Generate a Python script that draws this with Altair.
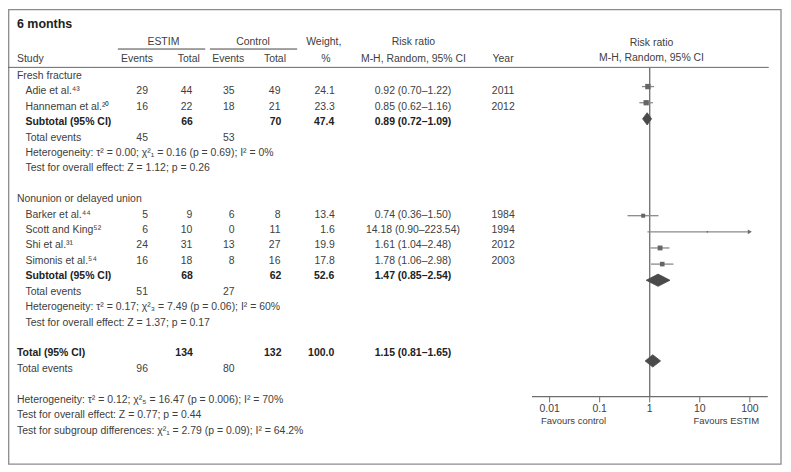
import altair as alt
import pandas as pd

# ---------------- data ----------------
study_names = ["Adie et al.⁴³", "Hanneman et al.²⁰", "Barker et al.⁴⁴",
               "Scott and King⁵²", "Shi et al.³¹", "Simonis et al.⁵⁴"]
study_rows = [1, 2, 9, 10, 11, 12]
estim_events = [29, 16, 5, 6, 24, 16]
estim_total = [44, 22, 9, 10, 31, 18]
ctrl_events = [35, 18, 6, 0, 13, 8]
ctrl_total = [49, 21, 8, 11, 27, 16]
weights = [24.1, 23.3, 13.4, 1.6, 19.9, 17.8]
rr = [0.92, 0.85, 0.74, 14.18, 1.61, 1.78]
rr_lo = [0.70, 0.62, 0.36, 0.90, 1.04, 1.06]
rr_hi = [1.22, 1.16, 1.50, 223.54, 2.48, 2.98]
years = [2011, 2012, 1984, 1994, 2012, 2003]

sum_names = ["Subtotal (95% CI)", "Subtotal (95% CI)", "Total (95% CI)"]
sum_rows = [3, 13, 18]
sum_estim_total = [66, 68, 134]
sum_ctrl_total = [70, 62, 132]
sum_weight = [47.4, 52.6, 100.0]
sum_rr = [0.89, 1.47, 1.15]
sum_lo = [0.72, 0.85, 0.81]
sum_hi = [1.09, 2.54, 1.65]

te_rows = [4, 14, 19]
te_estim = [45, 51, 96]
te_ctrl = [53, 27, 80]

group_labels = ["Fresh fracture", "Nonunion or delayed union"]
group_rows = [0, 8]

sub_notes = ["Heterogeneity: τ² = 0.00; χ²₁ = 0.16 (p = 0.69); I² = 0%",
             "Test for overall effect: Z = 1.12; p = 0.26",
             "Heterogeneity: τ² = 0.17; χ²₃ = 7.49 (p = 0.06); I² = 60%",
             "Test for overall effect: Z = 1.37; p = 0.17"]
sub_note_rows = [5, 6, 15, 16]
overall_notes = ["Heterogeneity: τ² = 0.12; χ²₅ = 16.47 (p = 0.006); I² = 70%",
                 "Test for overall effect: Z = 0.77; p = 0.44",
                 "Test for subgroup differences: χ²₁ = 2.79 (p = 0.09); I² = 64.2%"]
overall_note_rows = [21, 22, 23]

tick_values = [0.01, 0.1, 1, 10, 100]
tick_labels = ["0.01", "0.1", "1", "10", "100"]
axis_extent = [0.00444, 228]
display_max = 100

# ---------------- style / layout ----------------
FONT = "Liberation Sans"
TXT = "#404040"
TXTB = "#222222"
FS = 10.5
W, H = 778, 460


def P(v):
    return v - 8  # page pixel -> chart pixel


ROWY = alt.Scale(domain=[0, 23], range=[P(75.2), P(431.3)], nice=False, zero=False)
FY = alt.Scale(domain=[0, 23], range=[P(69.8), P(69.8 + 16.2 * 23)], nice=False, zero=False)
XS = alt.Scale(type="log", domain=[0.01, 100], range=[P(551.7), P(752.7)], nice=False)

one = pd.DataFrame({"k": [0]})


def fmt_rr(a, lo, hi):
    return f"{a:.2f} ({lo:.2f}–{hi:.2f})"


studies = pd.DataFrame({
    "row": study_rows, "name": study_names,
    "ee": [str(v) for v in estim_events], "et": [str(v) for v in estim_total],
    "ce": [str(v) for v in ctrl_events], "ct": [str(v) for v in ctrl_total],
    "w": [f"{v:.1f}" for v in weights],
    "rr": [fmt_rr(a, b, c) for a, b, c in zip(rr, rr_lo, rr_hi)],
    "year": [str(v) for v in years],
    "est": rr, "lo": rr_lo, "hi": [min(h, display_max) for h in rr_hi],
    "weight": weights,
})
arrows = pd.DataFrame({"row": [r for r, h in zip(study_rows, rr_hi) if h > display_max],
                       "x": [display_max for h in rr_hi if h > display_max]})
summ = pd.DataFrame({
    "row": sum_rows, "name": sum_names,
    "et": [str(v) for v in sum_estim_total], "ct": [str(v) for v in sum_ctrl_total],
    "w": [f"{v:.1f}" for v in sum_weight],
    "rr": [fmt_rr(a, b, c) for a, b, c in zip(sum_rr, sum_lo, sum_hi)],
})
te = pd.DataFrame({"row": te_rows, "name": ["Total events"] * 3,
                   "ee": [str(v) for v in te_estim], "ce": [str(v) for v in te_ctrl]})
groups = pd.DataFrame({"row": group_rows, "name": group_labels})
snotes = pd.DataFrame({"row": sub_note_rows, "name": sub_notes})
onotes = pd.DataFrame({"row": overall_note_rows, "name": overall_notes})

# diamond outlines (closed polygons) built from the summary estimates
HH = 0.38
dia = []
for g, (r, e, lo, hi) in enumerate(zip(sum_rows, sum_rr, sum_lo, sum_hi)):
    pts = [(lo, r), (e, r - HH), (hi, r), (e, r + HH), (lo, r)]
    for k, (xv, yv) in enumerate(pts):
        dia.append({"grp": g, "k": k, "dx": xv, "dy": yv})
dia = pd.DataFrame(dia)
ticks = pd.DataFrame({"t": tick_values, "lab": tick_labels})
axis_df = pd.DataFrame({"a": [axis_extent[0]], "b": [axis_extent[1]]})
ref_df = pd.DataFrame({"v": [1]})


def col(df, field, xpos, align, bold=False, size=FS):
    return alt.Chart(df).mark_text(
        align=align, baseline="middle", font=FONT, fontSize=size,
        fontWeight="bold" if bold else "normal", color=TXTB if bold else TXT
    ).encode(x=alt.value(P(xpos)), y=alt.Y("row:Q", scale=ROWY, axis=None), text=f"{field}:N")


def label(txt, x, y, align="left", bold=False, size=FS, color=TXT):
    return alt.Chart(one).mark_text(
        text=txt, align=align, baseline="middle", font=FONT, fontSize=size,
        fontWeight="bold" if bold else "normal", color=color
    ).encode(x=alt.value(P(x)), y=alt.value(P(y)))


def hline(x1, x2, y, color="#555", width=1.0):
    return alt.Chart(one).mark_rule(color=color, strokeWidth=width).encode(
        x=alt.value(P(x1)), x2=alt.value(P(x2)), y=alt.value(P(y)))


layers = []
# border
layers.append(alt.Chart(one).mark_rect(fillOpacity=0, stroke="#8c8c8c", strokeWidth=1.3).encode(
    x=alt.value(0.7), x2=alt.value(P(784)), y=alt.value(0.7), y2=alt.value(P(465))))
# headers
layers += [
    label("6 months", 17, 23, bold=True, size=12.5, color="#1e1e1e"),
    label("ESTIM", 164, 41, align="center"),
    label("Control", 254, 41, align="center"),
    hline(118.3, 206, 48.3, "#444"),
    hline(210.7, 298.3, 48.3, "#444"),
    label("Weight,", 325, 41, align="center"),
    label("%", 327, 58, align="center"),
    label("Study", 17, 58),
    label("Events", 137.5, 58, align="center"),
    label("Total", 189.5, 58, align="center"),
    label("Events", 229, 58, align="center"),
    label("Total", 276, 58, align="center"),
    label("Risk ratio", 415, 41, align="center"),
    label("M-H, Random, 95% CI", 415, 58, align="center"),
    label("Year", 505, 58, align="center"),
    label("Risk ratio", 654, 42, align="center"),
    label("M-H, Random, 95% CI", 654, 57.5, align="center"),
    hline(6, 771.7, 66.7, "#666"),
]
# table body
layers += [
    col(groups, "name", 17, "left"),
    col(studies, "name", 25.5, "left"),
    col(studies, "ee", 148.5, "right"),
    col(studies, "et", 193, "right"),
    col(studies, "ce", 235.5, "right"),
    col(studies, "ct", 281.5, "right"),
    col(studies, "w", 336, "right"),
    col(studies, "rr", 414.5, "center"),
    col(studies, "year", 505, "center"),
    col(summ[summ.row < 18], "name", 25.5, "left", bold=True),
    col(summ[summ.row >= 18], "name", 17, "left", bold=True),
    col(summ, "et", 193.5, "right", bold=True),
    col(summ, "ct", 282.5, "right", bold=True),
    col(summ, "w", 335.5, "right", bold=True),
    col(summ, "rr", 414.5, "center", bold=True),
    col(te[te.row < 18], "name", 25.5, "left"),
    col(te[te.row >= 18], "name", 17, "left"),
    col(te, "ee", 148.5, "right"),
    col(te, "ce", 235.5, "right"),
    col(snotes, "name", 25.5, "left"),
    col(onotes, "name", 17, "left"),
]
# forest plot
layers += [
    alt.Chart(ref_df).mark_rule(color="#6e6e6e", strokeWidth=1.3).encode(
        x=alt.X("v:Q", scale=XS, axis=None), y=alt.value(P(66.7)), y2=alt.value(P(397.3))),
    alt.Chart(axis_df).mark_rule(color="#6e6e6e", strokeWidth=1.2).encode(
        x=alt.X("a:Q", scale=XS, axis=None), x2="b:Q", y=alt.value(P(397.3))),
    alt.Chart(ticks).mark_rule(color="#6e6e6e", strokeWidth=1).encode(
        x=alt.X("t:Q", scale=XS, axis=None), y=alt.value(P(397.3)), y2=alt.value(P(403))),
    alt.Chart(ticks).mark_text(font=FONT, fontSize=10.5, color=TXT, baseline="middle").encode(
        x=alt.X("t:Q", scale=XS, axis=None), y=alt.value(P(410)), text="lab:N"),
    label("Favours control", 543, 421.7, size=9.5),
    label("Favours ESTIM", 762, 421.7, align="right", size=9.5),
    alt.Chart(studies).mark_rule(color="#8a8a8a", strokeWidth=1.3).encode(
        x=alt.X("lo:Q", scale=XS, axis=None), x2="hi:Q",
        y=alt.Y("row:Q", scale=FY, axis=None)),
    alt.Chart(arrows).mark_point(shape="triangle-right", filled=True, color="#6e6e6e",
                                 opacity=1, size=22).encode(
        x=alt.X("x:Q", scale=XS, axis=None), y=alt.Y("row:Q", scale=FY, axis=None)),
    alt.Chart(studies).mark_square(color="#666666", opacity=1).encode(
        x=alt.X("est:Q", scale=XS, axis=None), y=alt.Y("row:Q", scale=FY, axis=None),
        size=alt.Size("weight:Q", scale=alt.Scale(domain=[0, 25], range=[0, 30]), legend=None)),
    alt.Chart(dia).mark_line(fill="#4a4a4a", stroke="#4a4a4a", strokeWidth=0.8,
                             interpolate="linear").encode(
        x=alt.X("dx:Q", scale=XS, axis=None), y=alt.Y("dy:Q", scale=FY, axis=None),
        detail="grp:N", order="k:Q"),
]

chart = alt.layer(*layers).resolve_scale(y="independent").properties(
    width=W, height=H, autosize=alt.AutoSizeParams(type="none"),
    padding={"left": 0, "top": 0, "right": 0, "bottom": 0}
).configure_view(stroke=None)

chart.save("out.html", embed_options={"renderer": "svg", "actions": False})
